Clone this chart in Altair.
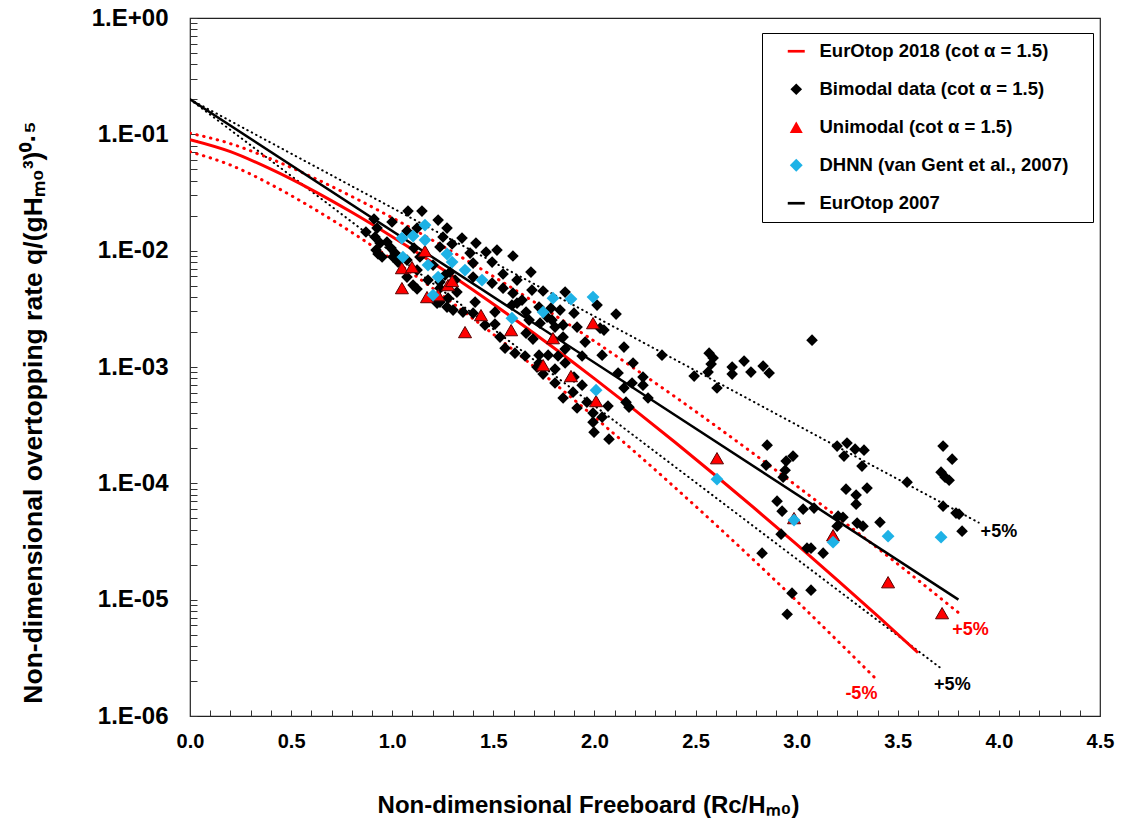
import json
import altair as alt
import pandas as pd

# ---------------- data ----------------
# Bimodal data (black diamonds): Rc/Hm0 and log10 of q/(g Hm0^3)^0.5
bimodal_rc = [
    0.870, 0.910, 0.915, 0.925, 0.920, 0.930, 0.940, 0.950, 0.974, 0.999, 0.994, 1.004, 1.014, 1.029,
    1.073, 1.078, 1.073, 1.073, 1.103, 1.108, 1.123, 1.123, 1.123, 1.137, 1.147, 1.177, 1.202, 1.222, 1.227, 1.236, 1.236, 1.236, 1.236,
    1.251, 1.261, 1.271, 1.271, 1.276, 1.286, 1.296, 1.311, 1.320, 1.345, 1.350, 1.385, 1.400, 1.400, 1.400, 1.414, 1.410, 1.301,
    1.459, 1.464, 1.494, 1.494, 1.508, 1.508, 1.518, 1.533, 1.548, 1.548, 1.558, 1.597, 1.597, 1.592, 1.607, 1.617, 1.617,
    1.642, 1.657, 1.662, 1.662, 1.677, 1.686, 1.691, 1.696, 1.726, 1.726, 1.726, 1.731, 1.746, 1.746, 1.766, 1.771, 1.785, 1.790, 1.805, 1.805, 1.820, 1.716, 1.805,
    1.830, 1.845, 1.845, 1.845, 1.855, 1.855, 1.855, 1.899, 1.899, 1.894, 1.914, 1.914, 1.939, 1.939, 1.954, 1.963, 1.993, 1.993, 1.998, 2.013, 2.028, 2.038, 2.038, 2.047,
    2.067, 2.072, 2.107, 2.117, 2.146, 2.146, 2.156, 2.171, 2.191, 2.186, 2.240, 2.240, 2.265,
    2.334, 2.493, 2.567, 2.587, 2.577, 2.562, 2.606,
    2.681, 2.681, 2.740, 2.774, 2.834, 2.864, 3.076, 2.854, 2.982, 2.948, 2.849, 2.943, 2.933, 2.903, 2.928, 3.032, 3.086, 2.923, 3.051, 3.071, 3.131, 2.829, 2.977, 3.071, 2.953,
    3.200, 3.249, 3.289, 3.333, 3.234, 3.323, 3.244, 3.294, 3.348, 3.294, 3.205, 3.229, 3.200, 3.299, 3.328, 3.412, 3.546, 3.724, 3.769, 3.714, 3.734, 3.754, 3.724, 3.788, 3.803, 3.818,
]
bimodal_log10q = [
    -1.840, -1.728, -1.883, -1.806, -1.995, -2.029, -1.935, -2.055, -1.926, -1.754, -1.978, -2.055, -2.021, -2.098,
    -1.831, -1.660, -2.081, -2.227, -2.296, -1.978, -1.806, -2.167, -2.330, -2.055, -1.660, -2.253, -2.124, -2.451, -1.737, -1.969, -2.270, -2.322, -2.442,
    -1.883, -2.210, -1.806, -2.485, -2.408, -2.184, -1.943, -2.253, -2.356, -1.892, -2.528, -2.021, -2.107, -2.227, -2.537, -1.935, -2.442, -2.511,
    -2.640, -2.012, -2.098, -2.279, -2.528, -2.631, -1.995, -2.743, -2.201, -2.322, -2.838, -2.046, -2.365, -2.468, -2.881, -2.253, -2.451,
    -2.425, -2.906, -2.528, -2.709, -2.597, -2.184, -2.339, -2.760, -2.485, -2.898, -2.966, -2.623, -2.347, -3.061, -2.571, -2.898, -2.494, -2.597, -2.657, -3.018, -2.906, -3.001, -3.138,
    -2.511, -2.640, -2.743, -3.267, -2.356, -2.846, -2.966, -2.537, -3.087, -3.216, -2.657, -3.353, -2.906, -3.156, -2.786, -3.302, -3.396, -3.474, -3.560, -2.468, -2.666, -2.898, -3.431, -2.683,
    -3.336, -3.620, -2.545, -3.052, -2.829, -3.181, -3.302, -3.345, -2.966, -3.138, -3.087, -3.156, -3.267,
    -2.898, -3.078, -2.881, -2.923, -2.975, -3.044, -3.181,
    -3.001, -3.061, -2.949, -3.044, -2.992, -3.052, -2.769, -3.672, -3.766, -3.809, -3.844, -3.887, -3.947, -4.153, -4.239, -4.222, -4.213, -4.437, -4.557, -4.557, -4.600, -4.600, -4.944, -4.918, -5.125,
    -3.680, -3.654, -3.706, -3.715, -3.766, -3.852, -4.050, -4.101, -4.041, -4.179, -4.282, -4.291, -4.368, -4.342, -4.368, -4.334, -3.990, -3.680, -3.792, -3.904, -3.947, -3.973, -4.196, -4.256, -4.265, -4.411,
]

# Unimodal (red triangles)
unimodal_rc = [1.048, 1.098, 1.162, 1.048, 1.172, 1.227, 1.276, 1.296, 1.360, 1.439, 1.588,
               1.746, 1.795, 1.884, 1.993, 2.008, 2.606, 2.987, 3.180, 3.452, 3.719]
unimodal_log10q = [-2.150, -2.141, -2.003, -2.322, -2.399, -2.382, -2.296, -2.261, -2.700, -2.554, -2.683,
                   -2.984, -2.752, -3.078, -2.623, -3.293, -3.784, -4.299, -4.446, -4.850, -5.116]

# DHNN (van Gent et al., 2007) (cyan diamonds)
dhnn_rc = [1.048, 1.103, 1.162, 1.162, 1.053, 1.177, 1.227, 1.202, 1.271, 1.296, 1.360, 1.444,
           1.592, 1.746, 1.795, 1.884, 1.993, 2.008, 2.606, 2.987, 3.180, 3.452, 3.714]
dhnn_log10q = [-1.892, -1.874, -1.780, -1.909, -2.055, -2.124, -2.227, -2.382, -2.029, -2.098, -2.167, -2.253,
               -2.580, -2.528, -2.408, -2.416, -2.399, -3.199, -3.964, -4.316, -4.506, -4.454, -4.463]

# EurOtop 2018 curve and its 5% bands (red)
eurotop2018_rc = [0.0, 0.2, 0.4, 0.6, 0.8, 1.0, 1.2, 1.4, 1.6, 1.8, 2.0, 2.2, 2.4, 2.6, 2.8, 3.0, 3.2, 3.4, 3.6]
eurotop2018_log10q = [-1.046, -1.149, -1.300, -1.475, -1.670, -1.880, -2.103, -2.338, -2.583, -2.837,
                      -3.100, -3.371, -3.649, -3.935, -4.227, -4.525, -4.830, -5.140, -5.456]
upper2018_rc = [0.0, 0.2, 0.4, 0.6, 0.8, 1.0, 1.2, 1.4, 1.6, 1.8, 2.0, 2.2, 2.4, 2.6, 2.8, 3.0, 3.2, 3.4, 3.6, 3.8]
upper2018_log10q = [-0.990, -1.080, -1.211, -1.364, -1.534, -1.717, -1.911, -2.116, -2.329, -2.551,
                    -2.779, -3.016, -3.258, -3.507, -3.762, -4.022, -4.287, -4.557, -4.832, -5.112]
lower2018_rc = [0.0, 0.2, 0.4, 0.6, 0.8, 1.0, 1.2, 1.4, 1.6, 1.8, 2.0, 2.2, 2.4, 2.6, 2.8, 3.0, 3.2, 3.4]
lower2018_log10q = [-1.150, -1.264, -1.431, -1.627, -1.843, -2.076, -2.323, -2.584, -2.856, -3.138,
                    -3.430, -3.730, -4.039, -4.356, -4.680, -5.011, -5.350, -5.694]

# EurOtop 2007 (black, straight on the log axis) and its 5% bands
eurotop2007_rc = [0.0, 3.80]
eurotop2007_q = [0.2, 1.0e-5]
upper2007_rc = [0.0, 3.90]
upper2007_q = [0.2, 4.6e-5]
lower2007_rc = [0.0, 3.71]
lower2007_q = [0.2, 2.6e-6]

# band labels
note_text = ["+5%", "+5%", "+5%", "-5%"]
note_rc = [4.00, 3.86, 3.77, 3.32]
note_q = [3.8e-5, 5.5e-6, 1.84e-6, 1.55e-6]
note_color = ["#000000", "#ff0000", "#000000", "#ff0000"]

legend_labels = ["EurOtop 2018 (cot α = 1.5)", "Bimodal data (cot α = 1.5)", "Unimodal (cot α = 1.5)",
                 "DHNN (van Gent et al., 2007)", "EurOtop 2007"]
legend_colors = ["#ff0000", "#000000", "#ff0000", "#1eb2e6", "#000000"]

x_tick_values = [0.0, 0.1, 0.2, 0.3, 0.4, 0.5, 0.6, 0.7, 0.8, 0.9, 1.0, 1.1, 1.2, 1.3, 1.4, 1.5, 1.6, 1.7, 1.8, 1.9,
                 2.0, 2.1, 2.2, 2.3, 2.4, 2.5, 2.6, 2.7, 2.8, 2.9, 3.0, 3.1, 3.2, 3.3, 3.4, 3.5, 3.6, 3.7, 3.8, 3.9,
                 4.0, 4.1, 4.2, 4.3, 4.4, 4.5]
x_tick_labels = ["0.0", "0.5", "1.0", "1.5", "2.0", "2.5", "3.0", "3.5", "4.0", "4.5"]
y_tick_labels = ["1.E-06", "1.E-05", "1.E-04", "1.E-03", "1.E-02", "1.E-01", "1.E+00"]
y_tick_values = [m * 10.0 ** e for e in range(-6, 0) for m in range(1, 10)] + [1.0]

# ---------------- build tables ----------------
pts = pd.concat([
    pd.DataFrame({"rc": bimodal_rc, "lq": bimodal_log10q, "series": legend_labels[1]}),
    pd.DataFrame({"rc": unimodal_rc, "lq": unimodal_log10q, "series": legend_labels[2]}),
    pd.DataFrame({"rc": dhnn_rc, "lq": dhnn_log10q, "series": legend_labels[3]}),
], ignore_index=True)
pts["q"] = 10.0 ** pts["lq"]


def curve_df(rc, lq=None, q=None):
    d = pd.DataFrame({"rc": rc})
    d["q"] = [10.0 ** v for v in lq] if lq is not None else q
    return d


notes = pd.DataFrame({"rc": note_rc, "q": note_q, "text": note_text, "color": note_color})

BOLD = "Liberation Sans, Arial, sans-serif"

x_label_expr = ("abs(datum.value*2 - round(datum.value*2)) < 1e-6 ? "
                + json.dumps(x_tick_labels) + "[round(datum.value*2)] : ''")
y_label_expr = ("abs(log(datum.value)/LN10 - round(log(datum.value)/LN10)) < 1e-6 ? "
                + json.dumps(y_tick_labels) + "[round(log(datum.value)/LN10) + 6] : ''")

x_axis = alt.Axis(values=x_tick_values, labelExpr=x_label_expr, grid=False, domain=False,
                  offset=-6, tickSize=6, tickColor="#333", labelPadding=15,
                  labelFont=BOLD, labelFontSize=20, labelFontWeight="bold", labelColor="black",
                  labelFlush=False, labelOverlap=False,
                  title="Non-dimensional Freeboard (Rc/Hₘ₀)", titleFont=BOLD, titleFontSize=24,
                  titleFontWeight="bold", titleColor="black", titleX=398, titleY=95,
                  titleBaseline="middle", titleAlign="center")
y_axis = alt.Axis(values=y_tick_values, labelExpr=y_label_expr, grid=False, domain=False,
                  offset=-7, tickSize=7, tickColor="#333", labelPadding=22,
                  labelFont=BOLD, labelFontSize=24, labelFontWeight="bold", labelColor="black",
                  labelFlush=False, labelOverlap=False,
                  title="Non-dimensional overtopping rate  q/(gHₘ₀³)⁰·⁵", titleFont=BOLD,
                  titleFontSize=26.5, titleFontWeight="bold", titleColor="black",
                  titleX=-164, titleY=394, titleBaseline="middle", titleAlign="center", titleAngle=-90)

X = alt.X("rc:Q", scale=alt.Scale(domain=[0, 4.5], nice=False, zero=False), axis=x_axis)
Y = alt.Y("q:Q", scale=alt.Scale(type="log", domain=[1e-6, 1], nice=False), axis=y_axis)


def line(df, color, width, dash=None, interp="monotone"):
    kw = dict(color=color, strokeWidth=width, interpolate=interp, clip=True)
    if dash:
        kw["strokeDash"] = dash
        kw["strokeCap"] = "round"
    return alt.Chart(df).mark_line(**kw).encode(x=X, y=Y)


lines = [
    line(curve_df(upper2007_rc, q=upper2007_q), "#000000", 2, [0.5, 4.5], "linear"),
    line(curve_df(lower2007_rc, q=lower2007_q), "#000000", 2, [0.5, 4.5], "linear"),
    line(curve_df(upper2018_rc, lq=upper2018_log10q), "#ff0000", 3, [0.5, 6.5]),
    line(curve_df(lower2018_rc, lq=lower2018_log10q), "#ff0000", 3, [0.5, 6.5]),
    line(curve_df(eurotop2007_rc, q=eurotop2007_q), "#000000", 2.5, None, "linear"),
    line(curve_df(eurotop2018_rc, lq=eurotop2018_log10q), "#ff0000", 3, None),
]

line_symbol = "M-1.9,-0.3H1.9V0.3H-1.9Z"
legend = alt.Legend(title=None, orient="none", legendX=572, legendY=15, strokeColor="black",
                    fillColor="white", padding=9, rowPadding=19, symbolOffset=16, labelOffset=14,
                    labelFont=BOLD, labelFontSize=18.5, labelFontWeight="bold", labelColor="black",
                    labelLimit=400, symbolSize=100, symbolStrokeWidth=0,
                    labelExpr="datum.label + '\u00a0\u00a0\u00a0\u200b'")

points = alt.Chart(pts).mark_point(filled=True, opacity=1, strokeWidth=1).encode(
    x=X, y=Y,
    color=alt.Color("series:N", scale=alt.Scale(domain=legend_labels, range=legend_colors), legend=legend),
    shape=alt.Shape("series:N", scale=alt.Scale(domain=legend_labels,
                                                range=[line_symbol, "diamond", "triangle-up", "diamond", line_symbol]),
                    legend=legend),
    size=alt.Size("series:N", scale=alt.Scale(type="ordinal", domain=legend_labels,
                                              range=[80, 135, 170, 165, 80]), legend=None),
    stroke=alt.condition(alt.datum.series == legend_labels[2], alt.value("#5a0000"), alt.value("transparent")),
)

texts = alt.Chart(notes).mark_text(font=BOLD, fontSize=18, fontWeight="bold", align="center",
                                   baseline="middle").encode(
    x=X, y=Y, text="text:N", color=alt.Color("color:N", scale=None))

chart = alt.layer(*lines, points, texts).properties(
    width=910, height=698,
    autosize=alt.AutoSizeParams(type="none"),
    padding={"left": 190, "top": 18, "right": 22, "bottom": 107},
    background="white",
).configure_view(stroke="#222", strokeWidth=1.2)

chart.save("out.html", embed_options={"renderer": "svg", "actions": False})
